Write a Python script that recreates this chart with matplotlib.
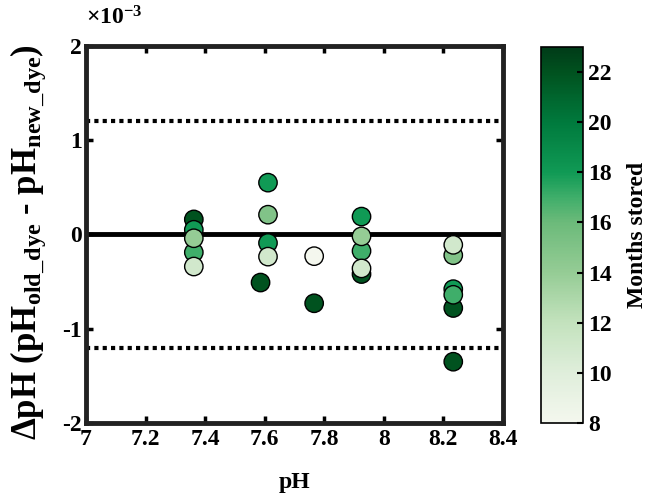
import numpy as np
import matplotlib
matplotlib.use('Agg')
import matplotlib.pyplot as plt
from matplotlib.ticker import FuncFormatter
from matplotlib.colors import LinearSegmentedColormap

plt.rcParams['font.family'] = ['Liberation Serif', 'DejaVu Serif']
plt.rcParams['font.weight'] = 'bold'
plt.rcParams['mathtext.fontset'] = 'custom'
plt.rcParams['mathtext.rm'] = 'Liberation Serif:bold'
plt.rcParams['mathtext.bf'] = 'Liberation Serif:bold'
plt.rcParams['mathtext.it'] = 'Liberation Serif:bold'
plt.rcParams['axes.unicode_minus'] = False

# pH of each sample, pH difference (old dye - new dye) and months stored
ph = [7.362, 7.362, 7.362, 7.362, 7.362,
      7.611, 7.611, 7.611, 7.611, 7.586,
      7.766, 7.766,
      7.925, 7.925, 7.925, 7.925, 7.925,
      8.233, 8.233, 8.233, 8.233, 8.233, 8.233]
dph = [0.16e-3, 0.05e-3, -0.04e-3, -0.19e-3, -0.34e-3,
       0.55e-3, 0.21e-3, -0.09e-3, -0.235e-3, -0.51e-3,
       -0.23e-3, -0.73e-3,
       0.19e-3, -0.02e-3, -0.175e-3, -0.36e-3, -0.42e-3,
       -0.11e-3, -0.22e-3, -0.58e-3, -0.64e-3, -0.78e-3, -1.35e-3]
months = [22, 18, 14, 17, 11,
          18, 15, 18, 11, 22,
          8, 22,
          18, 14, 17, 11, 22,
          11, 15, 18, 17, 22, 22]

# green ramp, white at 8 months to near black-green at 23
stops = [(0.0, '#f4f7ee'), (2/15, '#dfeedb'), (4/15, '#c3e2bd'),
         (6/15, '#95cc95'), (8/15, '#6cba7a'), (9/15, '#3fae6a'),
         (10/15, '#109a55'), (12/15, '#007a3d'), (14/15, '#00521f'),
         (1.0, '#003b18')]
cmap = LinearSegmentedColormap.from_list('greens_months', stops)

# draw darker (older) first so lighter ones sit on top
order = np.argsort(months, kind='stable')[::-1]
ph = np.array(ph)[order]
dph = np.array(dph)[order]
months = np.array(months)[order]

limit = 1.2e-3
scale = 1e-3

fig = plt.figure(figsize=(6.53, 4.95), dpi=100)
ax = fig.add_axes([0.1317, 0.1455, 0.6386, 0.7616])

ax.axhline(0, color='black', lw=3.5, zorder=1)
ax.axhline(limit, color='black', lw=3, ls=(0, (1, 1)), zorder=1)
ax.axhline(-limit, color='black', lw=3, ls=(0, (1, 1)), zorder=1)

sc = ax.scatter(ph, dph, c=months, cmap=cmap, vmin=8, vmax=23,
                s=175, edgecolors='black', linewidths=1.0, zorder=3)

ax.set_xlim(7, 8.4)
ax.set_ylim(-2e-3, 2e-3)
ax.set_xticks(np.arange(7, 8.41, 0.2))
ax.set_xticklabels(['7', '7.2', '7.4', '7.6', '7.8', '8', '8.2', '8.4'])
ax.set_yticks([-2e-3, -1e-3, 0, 1e-3, 2e-3])
ax.yaxis.set_major_formatter(FuncFormatter(lambda v, p: '%g' % round(v / scale, 6)))
ax.text(0.0, 1.045, r'$\times10^{-3}$', transform=ax.transAxes,
        fontsize=17, ha='left', va='bottom')

for sp in ax.spines.values():
    sp.set_linewidth(3.5)
    sp.set_color('#222222')
ax.tick_params(direction='in', width=2.5, length=5, labelsize=17,
               top=True, right=True, pad=4)
ax.tick_params(axis='y', pad=3)

ax.set_xlabel('pH', fontsize=17, fontweight='bold', labelpad=16)
ax.set_ylabel(r'$\Delta$pH (pH$_{\mathrm{old\_dye}}$ - pH$_{\mathrm{new\_dye}}$)',
              fontsize=25, fontweight='bold')
ax.yaxis.set_label_coords(-0.09, 0.48)

cax = fig.add_axes([0.8285, 0.1455, 0.0643, 0.7596])
cb = fig.colorbar(sc, cax=cax)
cb.set_ticks([8, 10, 12, 14, 16, 18, 20, 22])
cb.ax.tick_params(direction='in', width=1.5, length=4, labelsize=17)
cb.outline.set_linewidth(1.2)
cb.set_label('Months stored', fontsize=17, fontweight='bold', labelpad=11)

fig.savefig('out.png', dpi=100)
